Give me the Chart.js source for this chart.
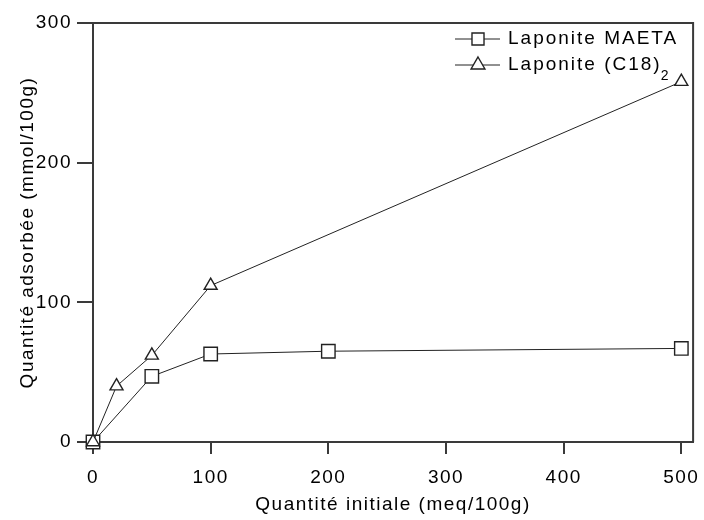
<!DOCTYPE html>
<html>
<head>
<meta charset="utf-8">
<script src="https://cdn.jsdelivr.net/npm/chart.js@4.4.1/dist/chart.umd.min.js"></script>
<style>
  html, body { margin: 0; padding: 0; background: #fff; }
  #wrap { width: 704px; height: 520px; }
</style>
</head>
<body>
<div id="wrap"><canvas id="adsChart" width="704" height="520"></canvas></div>
<script>
// valeurs
const xMaeta = [0, 50, 100, 200, 500];
const yMaeta = [0, 47, 63, 65, 67];
const xC18 = [0, 20, 50, 100, 500];
const yC18 = [0, 40, 62, 112, 258];
const xTicks = [0, 100, 200, 300, 400, 500];
const yTicks = [0, 100, 200, 300];
const seriesNames = ['Laponite MAETA', 'Laponite (C18)'];
const seriesSub = ['', '2'];
const seriesMarkers = ['rect', 'triangle'];
const markerSizes = [9.5, 7.5];

const fontFamily = '"Liberation Sans", Arial, sans-serif';
const ink = '#000';
const lineInk = '#222';
const axisColor = '#3a3a3a';

const spacing = {
    id: 'spacing',
    beforeLayout(chart) { chart.ctx.letterSpacing = '1.5px'; },
    beforeDraw(chart) { chart.ctx.letterSpacing = '1.5px'; }
};

const frame = {
    id: 'frame',
    beforeDatasetsDraw(chart) {
        const { ctx, chartArea: a } = chart;
        ctx.save();
        ctx.strokeStyle = axisColor;
        ctx.lineWidth = 2;
        ctx.beginPath();
        ctx.moveTo(a.left, a.top);
        ctx.lineTo(a.right, a.top);
        ctx.lineTo(a.right, a.bottom);
        ctx.stroke();
        ctx.restore();
    }
};

const boxLegend = {
    id: 'boxLegend',
    afterDraw(chart) {
        const ctx = chart.ctx;
        ctx.save();
        ctx.letterSpacing = '2px';
        chart.data.datasets.forEach((ds, i) => {
            const y = 39 + i * 26;
            ctx.strokeStyle = lineInk;
            ctx.lineWidth = 1;
            ctx.beginPath();
            ctx.moveTo(455, y);
            ctx.lineTo(500, y);
            ctx.stroke();
            ctx.fillStyle = '#fff';
            ctx.strokeStyle = lineInk;
            ctx.lineWidth = 1.4;
            Chart.helpers.drawPoint(ctx, {
                pointStyle: seriesMarkers[i],
                radius: i === 0 ? 8.5 : 8,
                rotation: 0,
                borderWidth: 1.4
            }, 478, y);
            ctx.fillStyle = ink;
            ctx.font = '19px ' + fontFamily;
            ctx.textBaseline = 'middle';
            ctx.textAlign = 'left';
            ctx.fillText(seriesNames[i], 508, y);
            if (seriesSub[i]) {
                const w = ctx.measureText(seriesNames[i]).width;
                ctx.font = '14px ' + fontFamily;
                ctx.fillText(seriesSub[i], 507 + w, y + 11);
            }
        });
        ctx.restore();
    }
};

function makeSet(i, xs, ys, order) {
    return {
        label: seriesNames[i] + seriesSub[i],
        data: xs.map((x, k) => ({ x: x, y: ys[k] })),
        showLine: true,
        borderColor: lineInk,
        borderWidth: 1,
        pointStyle: seriesMarkers[i],
        pointRadius: markerSizes[i],
        pointBackgroundColor: '#fff',
        pointBorderColor: lineInk,
        pointBorderWidth: 1.4,
        order: order,
        clip: false
    };
}

const ctx = document.getElementById('adsChart');
new Chart(ctx, {
    type: 'scatter',
    data: {
        datasets: [
            makeSet(0, xMaeta, yMaeta, 1),
            makeSet(1, xC18, yC18, 0)
        ]
    },
    options: {
        responsive: false,
        animation: false,
        events: [],
        layout: { padding: { top: 23, right: 7, bottom: 0, left: 0 } },
        plugins: {
            legend: { display: false },
            tooltip: { enabled: false }
        },
        scales: {
            x: {
                type: 'linear',
                min: 0,
                max: 510,
                afterFit(s) { s.height = 78; s.paddingLeft = 0; s.paddingRight = 0; },
                afterBuildTicks(s) { s.ticks = xTicks.map(v => ({ value: v })); },
                grid: { drawOnChartArea: false, drawTicks: true, tickLength: 12, color: axisColor, lineWidth: 2 },
                border: { color: axisColor, width: 2 },
                ticks: { color: ink, font: { family: fontFamily, size: 19 }, padding: 12, maxRotation: 0 },
                title: {
                    display: true,
                    text: 'Quantité initiale (meq/100g)',
                    color: ink,
                    font: { family: fontFamily, size: 19 },
                    padding: { top: 0, bottom: 4 }
                }
            },
            y: {
                type: 'linear',
                min: 0,
                max: 300,
                afterFit(s) { s.width = 93; s.paddingTop = 0; s.paddingBottom = 0; },
                afterBuildTicks(s) { s.ticks = yTicks.map(v => ({ value: v })); },
                grid: { drawOnChartArea: false, drawTicks: true, tickLength: 16, color: axisColor, lineWidth: 2 },
                border: { color: axisColor, width: 2 },
                ticks: { color: ink, font: { family: fontFamily, size: 19 }, padding: 5 },
                title: {
                    display: true,
                    text: 'Quantité adsorbée (mmol/100g)',
                    color: ink,
                    font: { family: fontFamily, size: 19 },
                    padding: { top: 16, bottom: 0 }
                }
            }
        }
    },
    plugins: [spacing, frame, boxLegend]
});
</script>
</body>
</html>
